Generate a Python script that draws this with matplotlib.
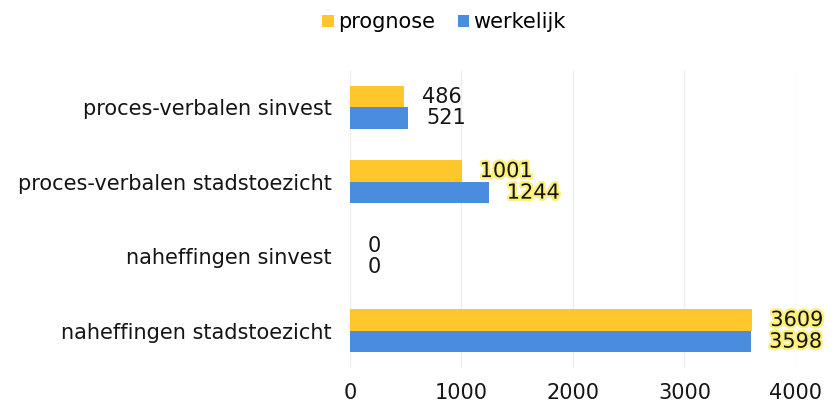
import numpy as np
import matplotlib.pyplot as plt
import matplotlib.patheffects as pe
from matplotlib.ticker import MultipleLocator

plt.rcParams['font.family'] = 'DejaVu Sans'

categories = ['proces-verbalen sinvest', 'proces-verbalen stadstoezicht',
              'naheffingen sinvest', 'naheffingen stadstoezicht']
prognose = [486, 1001, 0, 3609]
werkelijk = [521, 1244, 0, 3598]
glow = [False, True, False, True]

c_prog = '#FFC72C'
c_werk = '#4A8CDD'
fs = 15

fig = plt.figure(figsize=(8.36, 4.08), dpi=100)
ax = fig.add_axes([0.4187, 0.098, 0.952 - 0.4187, 0.73])

y = np.arange(len(categories))
h = 0.29
b1 = ax.barh(y - h / 2, prognose, height=h, color=c_prog, label='prognose', zorder=2)
b2 = ax.barh(y + h / 2, werkelijk, height=h, color=c_werk, label='werkelijk', zorder=2)

# value labels, the stadstoezicht ones have a yellow glow in the original
for bars, vals in ((b1, prognose), (b2, werkelijk)):
    for bar, v, g in zip(bars, vals, glow):
        t = ax.annotate(str(v), (bar.get_width(), bar.get_y() + bar.get_height() / 2),
                        xytext=(13, 0), textcoords='offset points',
                        ha='left', va='center', fontsize=fs, color='#151515')
        if g:
            t.set_path_effects([pe.withStroke(linewidth=3.5, foreground='#FFF07A')])

ax.set_xlim(0, 4000)
ax.set_ylim(3.5, -0.5)
ax.set_yticks(y)
ax.set_yticklabels(categories, fontsize=fs, color='#151515')
ax.xaxis.set_major_locator(MultipleLocator(1000))
ax.tick_params(axis='x', labelsize=fs, colors='#151515', length=0, pad=11)
ax.tick_params(axis='y', length=0, pad=13)
ax.grid(axis='x', color='#eeeeee', lw=1, zorder=0)
for s in ax.spines.values():
    s.set_visible(False)

fig.legend(loc='center', bbox_to_anchor=(0.531, 0.945), ncol=2, frameon=False,
           fontsize=fs, handlelength=0.55, handleheight=0.55, handletextpad=0.2,
           columnspacing=1.1)

fig.savefig('out.png', dpi=100)
